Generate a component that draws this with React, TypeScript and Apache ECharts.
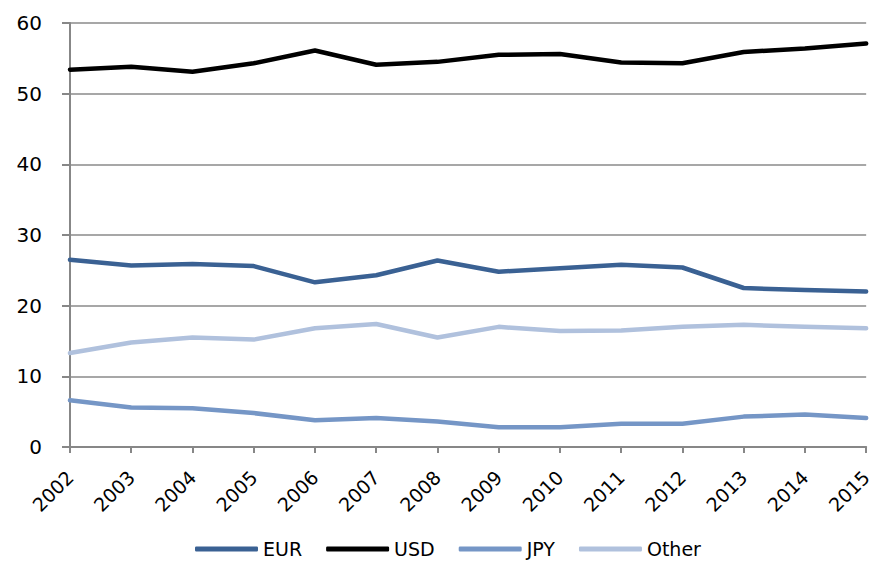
import React, { useEffect, useRef } from "react";
import * as echarts from "echarts";

const years = ["2002","2003","2004","2005","2006","2007","2008","2009","2010","2011","2012","2013","2014","2015"];
const eur = [26.5, 25.7, 25.9, 25.6, 23.3, 24.3, 26.4, 24.8, 25.3, 25.8, 25.4, 22.5, 22.2, 22.0];
const usd = [53.4, 53.8, 53.1, 54.3, 56.1, 54.1, 54.5, 55.5, 55.6, 54.4, 54.3, 55.9, 56.4, 57.1];
const jpy = [6.6, 5.6, 5.5, 4.8, 3.8, 4.1, 3.6, 2.8, 2.8, 3.3, 3.3, 4.3, 4.6, 4.1];
const other = [13.3, 14.8, 15.5, 15.2, 16.8, 17.4, 15.5, 17.0, 16.4, 16.5, 17.0, 17.3, 17.0, 16.8];
const seriesNames = ["EUR", "USD", "JPY", "Other"];
const colors = ["#3a6193", "#000000", "#7596c6", "#b0c1dd"];

export default function App() {
  const ref = useRef<HTMLDivElement>(null);
  useEffect(() => {
    const chart = echarts.init(ref.current!, null, { renderer: "svg" });
    const data = [eur, usd, jpy, other];
    chart.setOption({
      animation: false,
      backgroundColor: "#ffffff",
      grid: { left: 70, right: 5, top: 23, bottom: 114, containLabel: false },
      legend: {
        top: 538,
        left: 195,
        padding: 0,
        itemWidth: 63,
        itemHeight: 5,
        itemGap: 24,
        icon: "roundRect",
        textStyle: {
          fontFamily: "'DejaVu Sans', sans-serif",
          fontSize: 19,
          lineHeight: 22,
          color: "#000",
        },
        data: seriesNames,
      },
      xAxis: {
        type: "category",
        data: years,
        boundaryGap: false,
        axisLine: { lineStyle: { color: "#878787", width: 2 } },
        axisTick: { show: true, length: 6, alignWithLabel: true, lineStyle: { color: "#878787", width: 2 } },
        axisLabel: {
          rotate: 45,
          margin: 27,
          fontFamily: "'DejaVu Sans', sans-serif",
          fontSize: 19,
          color: "#000",
          interval: 0,
        },
      },
      yAxis: {
        type: "value",
        min: 0,
        max: 60,
        interval: 10,
        axisLine: { show: true, lineStyle: { color: "#878787", width: 2 } },
        axisTick: { show: true, length: 8, lineStyle: { color: "#878787", width: 2 } },
        splitLine: { lineStyle: { color: "#8a8a8a", width: 1.5 } },
        axisLabel: {
          margin: 28,
          fontFamily: "'DejaVu Sans', sans-serif",
          fontSize: 20,
          color: "#000",
        },
      },
      series: seriesNames.map((n, i) => ({
        name: n,
        type: "line",
        data: data[i],
        symbol: "none",
        color: colors[i],
        lineStyle: { width: 4.5, color: colors[i], cap: "round", join: "round" },
        z: i === 1 ? 3 : 2,
      })),
    });
    return () => chart.dispose();
  }, []);
  return <div ref={ref} style={{ width: 875, height: 561, position: "absolute", left: 0, top: 0 }} />;
}
